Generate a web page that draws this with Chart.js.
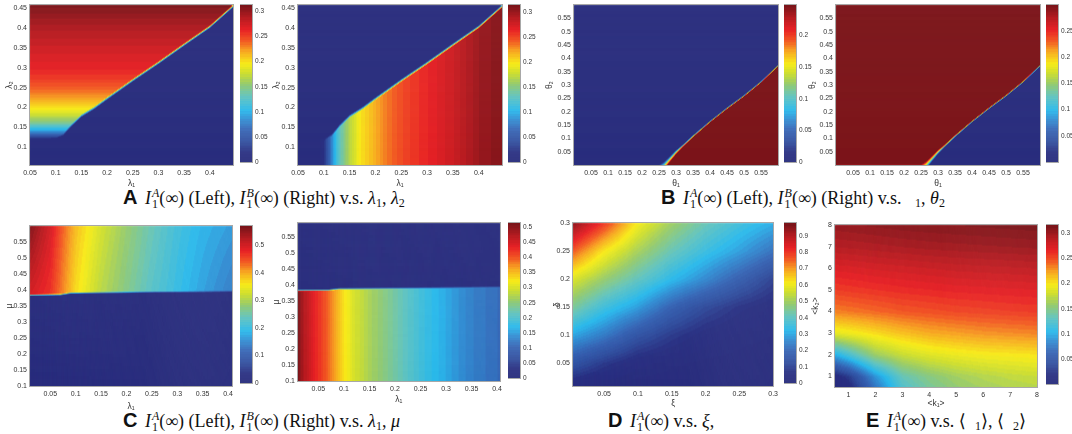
<!DOCTYPE html>
<html>
<head>
<meta charset="utf-8">
<script src="https://cdn.jsdelivr.net/npm/chart.js@4.4.1/dist/chart.umd.min.js"></script>
<style>
  html, body { margin: 0; padding: 0; background: #fff; }
  #fig { position: relative; width: 1072px; height: 434px; overflow: hidden; }
  .box { position: absolute; }
  .box canvas { display: block; }
  .cap { position: absolute; font-family: "Liberation Serif", "DejaVu Serif", "Times New Roman", serif; font-size: 18px;
         line-height: 22px; color: #111; white-space: nowrap; }
  .cap b { font-family: "Liberation Sans", Arial, sans-serif; font-size: 20px; font-weight: bold; margin-right: 3px; }
  .cap i { font-style: italic; }
  .cap sub { font-size: 12px; vertical-align: -3px; line-height: 0; }
  .ss { display: inline-block; vertical-align: -4px; font-size: 12px; line-height: 11px; margin-left: 1px; }
  .ss span { display: block; }
</style>
</head>
<body>
<div id="fig">
  <div class="cap" style="left:123px;top:186px"><b>A</b> <i>I</i><span class="ss"><span><i>A</i></span><span>1</span></span>(∞) (Left), <i>I</i><span class="ss"><span><i>B</i></span><span>1</span></span>(∞) (Right) v.s. <i>λ</i><sub>1</sub>, <i>λ</i><sub>2</sub></div>
  <div class="cap" style="left:661px;top:186px"><b>B</b> <i>I</i><span class="ss"><span><i>A</i></span><span>1</span></span>(∞) (Left), <i>I</i><span class="ss"><span><i>B</i></span><span>1</span></span>(∞) (Right) v.s. &nbsp;&nbsp;<sub>1</sub>, <i>θ</i><sub>2</sub></div>
  <div class="cap" style="left:123px;top:409px"><b>C</b> <i>I</i><span class="ss"><span><i>A</i></span><span>1</span></span>(∞) (Left), <i>I</i><span class="ss"><span><i>B</i></span><span>1</span></span>(∞) (Right) v.s. <i>λ</i><sub>1</sub>, <i>μ</i></div>
  <div class="cap" style="left:608px;top:409px"><b>D</b> <i>I</i><span class="ss"><span><i>A</i></span><span>1</span></span>(∞) v.s. <i>ξ</i>,</div>
  <div class="cap" style="left:866px;top:409px"><b>E</b> <i>I</i><span class="ss"><span><i>A</i></span><span>1</span></span>(∞) v.s. ⟨ &nbsp;<sub>1</sub>⟩, ⟨ &nbsp;<sub>2</sub>⟩</div>
</div>
<script>
// ---- A: lambda1 / lambda2 ----
const aXTicks = [0.05, 0.1, 0.15, 0.2, 0.25, 0.3, 0.35, 0.4];
const aYTicks = [0.1, 0.15, 0.2, 0.25, 0.3, 0.35, 0.4, 0.45];
const aEdgeLambda1 = [0.05, 0.1, 0.115, 0.13, 0.15, 0.175, 0.2, 0.25, 0.3, 0.35, 0.4, 0.445];
const aEdgeLambda2 = [0.118, 0.122, 0.132, 0.155, 0.18, 0.2, 0.224, 0.27, 0.314, 0.36, 0.405, 0.457];
const aLeftRowLambda2 = [0.115, 0.125, 0.135, 0.145, 0.16, 0.18, 0.2, 0.22, 0.25, 0.28, 0.3, 0.35, 0.4, 0.458];
const aLeftRowValue = [0.0, 0.03, 0.07, 0.1, 0.14, 0.175, 0.2, 0.22, 0.243, 0.258, 0.265, 0.277, 0.29, 0.31];
const aRightColLambda1 = [0.09, 0.1, 0.11, 0.12, 0.13, 0.15, 0.17, 0.2, 0.22, 0.25, 0.28, 0.3, 0.35, 0.4, 0.445];
const aRightColValue = [0.0, 0.02, 0.06, 0.1, 0.13, 0.17, 0.2, 0.22, 0.235, 0.25, 0.26, 0.265, 0.28, 0.3, 0.31];
const aBarTicks = [0, 0.05, 0.1, 0.15, 0.2, 0.25, 0.3];

// ---- B: theta1 / theta2 ----
const bTicks = [0.05, 0.1, 0.15, 0.2, 0.25, 0.3, 0.35, 0.4, 0.45, 0.5, 0.55];
const bEdgeTheta1 = [0.25, 0.265, 0.3, 0.35, 0.4, 0.45, 0.5, 0.55, 0.6];
const bEdgeTheta2 = [-0.016, 0.0, 0.05, 0.11, 0.165, 0.215, 0.262, 0.314, 0.375];
const bBlurTheta1 = [0.25, 0.28, 0.32, 0.4, 0.6];
const bBlurWidth = [0.02, 0.012, 0.005, 0.003, 0.003];
const bLeftLevels = [0, 0.248];
const bRightLevels = [0, 0.3];
const bLeftBarTicks = [0, 0.05, 0.1, 0.15, 0.2];
const bRightBarTicks = [0.05, 0.1, 0.15, 0.2, 0.25];

// ---- C: lambda1 / mu ----
const cXTicks = [0.05, 0.1, 0.15, 0.2, 0.25, 0.3, 0.35, 0.4];
const cYTicks = [0.1, 0.15, 0.2, 0.25, 0.3, 0.35, 0.4, 0.45, 0.5, 0.55];
const cEdgeLambda1 = [0.01, 0.07, 0.09, 0.15, 0.25, 0.35, 0.41];
const cLeftEdgeMu = [0.386, 0.387, 0.392, 0.393, 0.395, 0.396, 0.397];
const cRightEdgeMu = [0.386, 0.387, 0.391, 0.392, 0.394, 0.396, 0.398];
const cGridLambda1 = [0.01, 0.05, 0.075, 0.1, 0.15, 0.2, 0.25, 0.3, 0.35, 0.41];
const cGridMu = [0.39, 0.5, 0.6];
const cLeftGrid = [
  [0.50, 0.47, 0.42, 0.37, 0.31, 0.27, 0.23, 0.20, 0.17, 0.14],
  [0.53, 0.485, 0.43, 0.38, 0.32, 0.278, 0.238, 0.205, 0.178, 0.152],
  [0.56, 0.50, 0.44, 0.39, 0.33, 0.285, 0.245, 0.21, 0.185, 0.165]
];
const cRightLambda1 = [0.01, 0.02, 0.04, 0.06, 0.08, 0.1, 0.12, 0.15, 0.2, 0.25, 0.3, 0.35, 0.41];
const cRightValue = [0.51, 0.48, 0.44, 0.41, 0.37, 0.33, 0.30, 0.27, 0.23, 0.19, 0.16, 0.13, 0.11];
const cLeftBarTicks = [0, 0.1, 0.2, 0.3, 0.4, 0.5];
const cRightBarTicks = [0, 0.05, 0.1, 0.15, 0.2, 0.25, 0.3, 0.35, 0.4, 0.45, 0.5];

// ---- D: xi / delta ----
const dXTicks = [0.05, 0.1, 0.15, 0.2, 0.25, 0.3];
const dYTicks = [0.05, 0.1, 0.15, 0.2, 0.25, 0.3];
const dGridXi = [0.004, 0.05, 0.1, 0.15, 0.2, 0.25, 0.3];
const dGridDelta = [0.008, 0.05, 0.1, 0.15, 0.2, 0.25, 0.3];
const dGrid = [
  [0.03, 0.01, 0.0, 0.0, 0.0, 0.0, 0.0],
  [0.155, 0.09, 0.04, 0.02, 0.01, 0.005, 0.0],
  [0.30, 0.24, 0.15, 0.09, 0.045, 0.025, 0.015],
  [0.45, 0.36, 0.29, 0.19, 0.12, 0.07, 0.04],
  [0.575, 0.49, 0.41, 0.33, 0.26, 0.18, 0.10],
  [0.76, 0.62, 0.51, 0.42, 0.35, 0.29, 0.22],
  [0.95, 0.80, 0.61, 0.50, 0.42, 0.36, 0.31]
];
const dBarTicks = [0, 0.1, 0.2, 0.3, 0.4, 0.5, 0.6, 0.7, 0.8, 0.9];

// ---- E: <k1> / <k2> ----
const eTicks = [1, 2, 3, 4, 5, 6, 7, 8];
const eGridK1 = [0.5, 1, 2, 3, 4, 5, 6, 7, 8];
const eGridK2 = [0.5, 1, 2, 3, 4, 5, 6, 7, 8];
const eGrid = [
  [0.0, 0.012, 0.075, 0.125, 0.145, 0.157, 0.164, 0.169, 0.172],
  [0.012, 0.03, 0.09, 0.135, 0.152, 0.163, 0.17, 0.175, 0.178],
  [0.1, 0.12, 0.16, 0.178, 0.188, 0.194, 0.198, 0.2, 0.202],
  [0.19, 0.195, 0.205, 0.215, 0.222, 0.226, 0.23, 0.232, 0.234],
  [0.235, 0.237, 0.242, 0.247, 0.25, 0.253, 0.255, 0.257, 0.258],
  [0.257, 0.259, 0.262, 0.265, 0.267, 0.269, 0.27, 0.271, 0.272],
  [0.274, 0.275, 0.278, 0.28, 0.282, 0.284, 0.285, 0.286, 0.287],
  [0.292, 0.293, 0.295, 0.297, 0.299, 0.3, 0.301, 0.302, 0.303],
  [0.305, 0.306, 0.308, 0.31, 0.311, 0.312, 0.313, 0.314, 0.315]
];
const eBarTicks = [0.05, 0.1, 0.15, 0.2, 0.25, 0.3];

// jet-like colour map as printed in the figure
const mapStops = [
  [0.00, [42, 46, 126]], [0.06, [42, 48, 130]], [0.12, [48, 76, 156]], [0.20, [54, 100, 180]],
  [0.27, [50, 140, 210]], [0.33, [42, 185, 236]], [0.42, [100, 196, 190]], [0.50, [150, 203, 110]],
  [0.57, [205, 222, 50]], [0.63, [247, 236, 26]], [0.71, [247, 168, 34]], [0.78, [242, 90, 36]],
  [0.85, [232, 34, 38]], [0.93, [180, 28, 34]], [1.00, [124, 21, 26]]
];

const TEXT = "#333";
const FAMILY = '"Liberation Sans", Arial, sans-serif';
const fig = document.getElementById("fig");

function lerp1(xs, ys, x) {
  const n = xs.length;
  if (x <= xs[0]) return ys[0];
  if (x >= xs[n - 1]) return ys[n - 1];
  let i = 1;
  while (x > xs[i]) i++;
  const t = (x - xs[i - 1]) / (xs[i] - xs[i - 1]);
  return ys[i - 1] + t * (ys[i] - ys[i - 1]);
}

function lerp2(xs, ys, grid, x, y) {
  return lerp1(ys, grid.map((row) => lerp1(xs, row, x)), y);
}

// blend across a sharp front; d > 0 is the "inside" side
function front(d, w, inside, outside) {
  if (d >= w) return inside;
  if (d <= -w) return outside;
  return outside + ((d + w) / (2 * w)) * (inside - outside);
}

function colorAt(t) {
  t = Math.max(0, Math.min(1, t));
  let i = 1;
  while (i < mapStops.length - 1 && t > mapStops[i][0]) i++;
  const [t0, c0] = mapStops[i - 1];
  const [t1, c1] = mapStops[i];
  const k = (t - t0) / (t1 - t0);
  const c = c0.map((v, j) => Math.round(v + k * (c1[j] - v)));
  return `rgb(${c[0]},${c[1]},${c[2]})`;
}

const LEVELS = 64;
const palette = Array.from({ length: LEVELS }, (_, i) => colorAt(i / (LEVELS - 1)));
function levelColor(v, max) {
  const t = Math.max(0, Math.min(1, v / max));
  return palette[Math.min(LEVELS - 1, Math.floor(t * LEVELS))];
}

function addCanvas(left, top, w, h) {
  const div = document.createElement("div");
  div.className = "box";
  Object.assign(div.style, { left: left + "px", top: top + "px", width: w + "px", height: h + "px" });
  const c = document.createElement("canvas");
  c.width = w;
  c.height = h;
  c.style.width = w + "px";
  c.style.height = h + "px";
  div.appendChild(c);
  fig.appendChild(div);
  return c;
}

function fmt(v) {
  return String(+v.toFixed(3));
}

function heatPlugin(field, max) {
  return {
    id: "heat",
    beforeDatasetsDraw(chart) {
      const { ctx, chartArea: a, scales: { x, y } } = chart;
      const nx = Math.ceil(a.right - a.left);
      const ny = Math.ceil(a.bottom - a.top);
      const dx = (x.max - x.min) / nx;
      const dy = (y.max - y.min) / ny;
      ctx.save();
      for (let i = 0; i < nx; i++) {
        const x0 = x.min + i * dx;
        const px0 = x.getPixelForValue(x0);
        const px1 = x.getPixelForValue(x0 + dx);
        for (let j = 0; j < ny; j++) {
          const y0 = y.min + j * dy;
          const py0 = y.getPixelForValue(y0);
          const py1 = y.getPixelForValue(y0 + dy);
          ctx.fillStyle = levelColor(field(x0 + dx / 2, y0 + dy / 2), max);
          ctx.fillRect(px0, py1, px1 - px0 + 0.5, py0 - py1 + 0.5);
        }
      }
      ctx.restore();
    },
  };
}

const framePlugin = {
  id: "frame",
  afterDraw(chart) {
    const { ctx, chartArea: a } = chart;
    ctx.save();
    ctx.strokeStyle = "#a8a8a8";
    ctx.lineWidth = 1;
    ctx.strokeRect(Math.round(a.left) - 0.5, Math.round(a.top) - 0.5,
      Math.round(a.right - a.left) + 1, Math.round(a.bottom - a.top) + 1);
    ctx.restore();
  },
};

function tickList(arr) {
  return (scale) => { scale.ticks = arr.map((v) => ({ value: v })); };
}

function heatPanel(p) {
  const left = p.box.x - p.yw;
  const top = p.box.y - 4;
  const w = p.box.w + p.yw + 4;
  const h = p.box.h + 4 + p.xh;
  const canvas = addCanvas(left, top, w, h);
  const tickFont = { family: FAMILY, size: 7 };
  const titleFont = { family: FAMILY, size: 8.5 };
  new Chart(canvas, {
    type: "scatter",
    data: { datasets: [] },
    options: {
      responsive: false,
      animation: false,
      events: [],
      layout: { padding: { top: 4, right: 4, left: 0, bottom: 0 } },
      plugins: { legend: { display: false }, tooltip: { enabled: false } },
      scales: {
        x: {
          type: "linear", min: p.xr[0], max: p.xr[1],
          afterBuildTicks: tickList(p.xTicks),
          afterFit: (s) => { s.height = p.xh; },
          grid: { display: false, drawTicks: false }, border: { display: false },
          ticks: { font: tickFont, color: TEXT, padding: 4, autoSkip: false, maxRotation: 0, callback: fmt },
          title: { display: true, text: p.xTitle, font: titleFont, color: TEXT, padding: 0 },
        },
        y: {
          type: "linear", min: p.yr[0], max: p.yr[1],
          afterBuildTicks: tickList(p.yTicks),
          afterFit: (s) => { s.width = p.yw; },
          grid: { display: false, drawTicks: false }, border: { display: false },
          ticks: { font: tickFont, color: TEXT, padding: 3, autoSkip: false, callback: fmt },
          title: { display: true, text: p.yTitle, font: titleFont, color: TEXT, padding: { top: p.yPad, bottom: 0 } },
        },
      },
    },
    plugins: [heatPlugin(p.field, p.max), framePlugin],
  });

  // colour bar
  const cb = p.cb;
  const cw = cb.w + 22;
  const cCanvas = addCanvas(cb.x, cb.y - 4, cw, cb.h + 8);
  new Chart(cCanvas, {
    type: "scatter",
    data: { datasets: [] },
    options: {
      responsive: false,
      animation: false,
      events: [],
      layout: { padding: { top: 4, bottom: 4, left: 0, right: 0 } },
      plugins: { legend: { display: false }, tooltip: { enabled: false } },
      scales: {
        x: { display: false, min: 0, max: 1 },
        y: {
          position: "right", min: 0, max: p.max,
          afterBuildTicks: tickList(p.barTicks),
          afterFit: (s) => { s.width = 22; },
          grid: { display: false, drawTicks: false }, border: { display: false },
          ticks: { font: { family: FAMILY, size: 6.5 }, color: TEXT, padding: 3, autoSkip: false, callback: fmt },
        },
      },
    },
    plugins: [{
      id: "bar",
      beforeDatasetsDraw(chart) {
        const { ctx, chartArea: a, scales: { y } } = chart;
        const n = Math.ceil(a.bottom - a.top);
        ctx.save();
        for (let i = 0; i < n; i++) {
          const v0 = (i / n) * p.max;
          const v1 = ((i + 1) / n) * p.max;
          const py0 = y.getPixelForValue(v0);
          const py1 = y.getPixelForValue(v1);
          ctx.fillStyle = levelColor((v0 + v1) / 2, p.max);
          ctx.fillRect(a.left, py1, a.right - a.left, py0 - py1 + 0.5);
        }
        ctx.restore();
      },
    }, framePlugin],
  });
}

const aEdge = (x) => lerp1(aEdgeLambda1, aEdgeLambda2, x);
const bEdge = (x) => lerp1(bEdgeTheta1, bEdgeTheta2, x);
const bBlur = (x) => lerp1(bBlurTheta1, bBlurWidth, x);

heatPanel({
  box: { x: 30, y: 2, w: 203, h: 163 }, yw: 30, xh: 24, yPad: 5,
  xr: [0.05, 0.445], yr: [0.055, 0.458], xTicks: aXTicks, yTicks: aYTicks,
  xTitle: "λ₁", yTitle: "λ₂", max: 0.313, barTicks: aBarTicks,
  cb: { x: 240, y: 2, w: 12, h: 163 },
  field: (x, y) => front(y - aEdge(x), 0.004, lerp1(aLeftRowLambda2, aLeftRowValue, y), 0),
});
heatPanel({
  box: { x: 298, y: 2, w: 204, h: 163 }, yw: 30, xh: 24, yPad: 4,
  xr: [0.05, 0.445], yr: [0.055, 0.458], xTicks: aXTicks, yTicks: aYTicks,
  xTitle: "λ₁", yTitle: "λ₂", max: 0.315, barTicks: aBarTicks,
  cb: { x: 508, y: 2, w: 12, h: 163 },
  field: (x, y) => front(aEdge(x) - y, 0.004, lerp1(aRightColLambda1, aRightColValue, x), 0),
});
heatPanel({
  box: { x: 574, y: 2, w: 204, h: 163 }, yw: 32, xh: 24, yPad: 3,
  xr: [0, 0.6], yr: [0, 0.6], xTicks: bTicks, yTicks: bTicks,
  xTitle: "θ₁", yTitle: "θ₂", max: bLeftLevels[1], barTicks: bLeftBarTicks,
  cb: { x: 784, y: 2, w: 12, h: 163 },
  field: (x, y) => front(bEdge(x) - y, bBlur(x), bLeftLevels[1], bLeftLevels[0]),
});
heatPanel({
  box: { x: 836, y: 2, w: 204, h: 163 }, yw: 28, xh: 24, yPad: 0,
  xr: [0, 0.6], yr: [0, 0.6], xTicks: bTicks, yTicks: bTicks,
  xTitle: "θ₁", yTitle: "θ₂", max: bRightLevels[1], barTicks: bRightBarTicks,
  cb: { x: 1046, y: 2, w: 12, h: 163 },
  field: (x, y) => front(y - bEdge(x), bBlur(x), bRightLevels[1], bRightLevels[0]),
});
heatPanel({
  box: { x: 30, y: 223, w: 203, h: 163 }, yw: 30, xh: 26, yPad: 5,
  xr: [0.01, 0.408], yr: [0.1, 0.6], xTicks: cXTicks, yTicks: cYTicks,
  xTitle: "λ₁", yTitle: "μ", max: 0.57, barTicks: cLeftBarTicks,
  cb: { x: 240, y: 223, w: 12, h: 163 },
  field: (x, y) => front(y - lerp1(cEdgeLambda1, cLeftEdgeMu, x), 0.003,
    lerp2(cGridLambda1, cGridMu, cLeftGrid, x, y), 0),
});
heatPanel({
  box: { x: 298, y: 220, w: 204, h: 161 }, yw: 30, xh: 24, yPad: 4,
  xr: [0.01, 0.405], yr: [0.1, 0.595], xTicks: cXTicks, yTicks: cYTicks,
  xTitle: "λ₁", yTitle: "μ", max: 0.515, barTicks: cRightBarTicks,
  cb: { x: 508, y: 220, w: 12, h: 161 },
  field: (x, y) => front(lerp1(cEdgeLambda1, cRightEdgeMu, x) - y, 0.003,
    lerp1(cRightLambda1, cRightValue, x), 0),
});
heatPanel({
  box: { x: 573, y: 220, w: 205, h: 166 }, yw: 32, xh: 23, yPad: 12,
  xr: [0.004, 0.3], yr: [0.008, 0.3], xTicks: dXTicks, yTicks: dYTicks,
  xTitle: "ξ", yTitle: "δ", max: 0.98, barTicks: dBarTicks,
  cb: { x: 784, y: 220, w: 12, h: 166 },
  field: (x, y) => lerp2(dGridXi, dGridDelta, dGrid, x, y),
});
heatPanel({
  box: { x: 835, y: 222, w: 204, h: 165 }, yw: 28, xh: 22, yPad: 4,
  xr: [0.5, 8], yr: [0.5, 8], xTicks: eTicks, yTicks: eTicks,
  xTitle: "<k₁>", yTitle: "<k₂>", max: 0.317, barTicks: eBarTicks,
  cb: { x: 1046, y: 222, w: 12, h: 165 },
  field: (x, y) => lerp2(eGridK1, eGridK2, eGrid, x, y),
});
</script>
</body>
</html>
